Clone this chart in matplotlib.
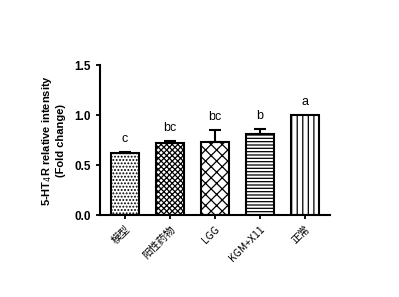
import numpy as np
import matplotlib
matplotlib.use('Agg')
import matplotlib.pyplot as plt

plt.rcParams['font.family'] = ['Noto Sans CJK SC', 'DejaVu Sans']
plt.rcParams['hatch.linewidth'] = 0.9

groups = ['模型', '阳性药物', 'LGG', 'KGM+X11', '正常']
values = [0.62, 0.72, 0.73, 0.81, 1.00]
errors = [0.01, 0.02, 0.12, 0.05, 0.0]
letters = ['c', 'bc', 'bc', 'b', 'a']
hatches = ['.....', 'xxxxxx', 'xxx', '-----', '|||']

fig = plt.figure(figsize=(3.99, 2.97), dpi=100)
ax = fig.add_axes([0.25, 0.276, 0.577, 0.505])

x = np.arange(len(groups))
for i in range(len(groups)):
    ax.bar(x[i], values[i], width=0.62, color='white', edgecolor='black',
           linewidth=1.5, hatch=hatches[i], zorder=2)
    if errors[i] > 0:
        ax.errorbar(x[i], values[i], yerr=[[0], [errors[i]]], fmt='none',
                    ecolor='black', elinewidth=1.5, capsize=4, capthick=1.5, zorder=3)
    ax.text(x[i], values[i] + errors[i] + 0.07, letters[i], ha='center', va='bottom',
            fontsize=9, family='Liberation Sans')

ax.set_xlim(-0.55, 4.55)
ax.set_ylim(0, 1.5)
ax.set_yticks([0, 0.5, 1.0, 1.5])
ax.set_yticklabels(['0.0', '0.5', '1.0', '1.5'], fontweight='bold', fontsize=8.5,
                   family='Liberation Sans')
ax.set_xticks(x)
ax.set_xticklabels(groups, rotation=45, ha='right', fontsize=7.5, rotation_mode='anchor')
ax.tick_params(axis='both', width=1.3, length=3)
for s in ['top', 'right']:
    ax.spines[s].set_visible(False)
for s in ['left', 'bottom']:
    ax.spines[s].set_linewidth(1.5)

ax.set_ylabel('5-HT$_4$R relative intensity\n(Fold change)', fontsize=8,
              fontweight='bold', family='Liberation Sans', labelpad=6)

fig.savefig('out.png', dpi=100)
